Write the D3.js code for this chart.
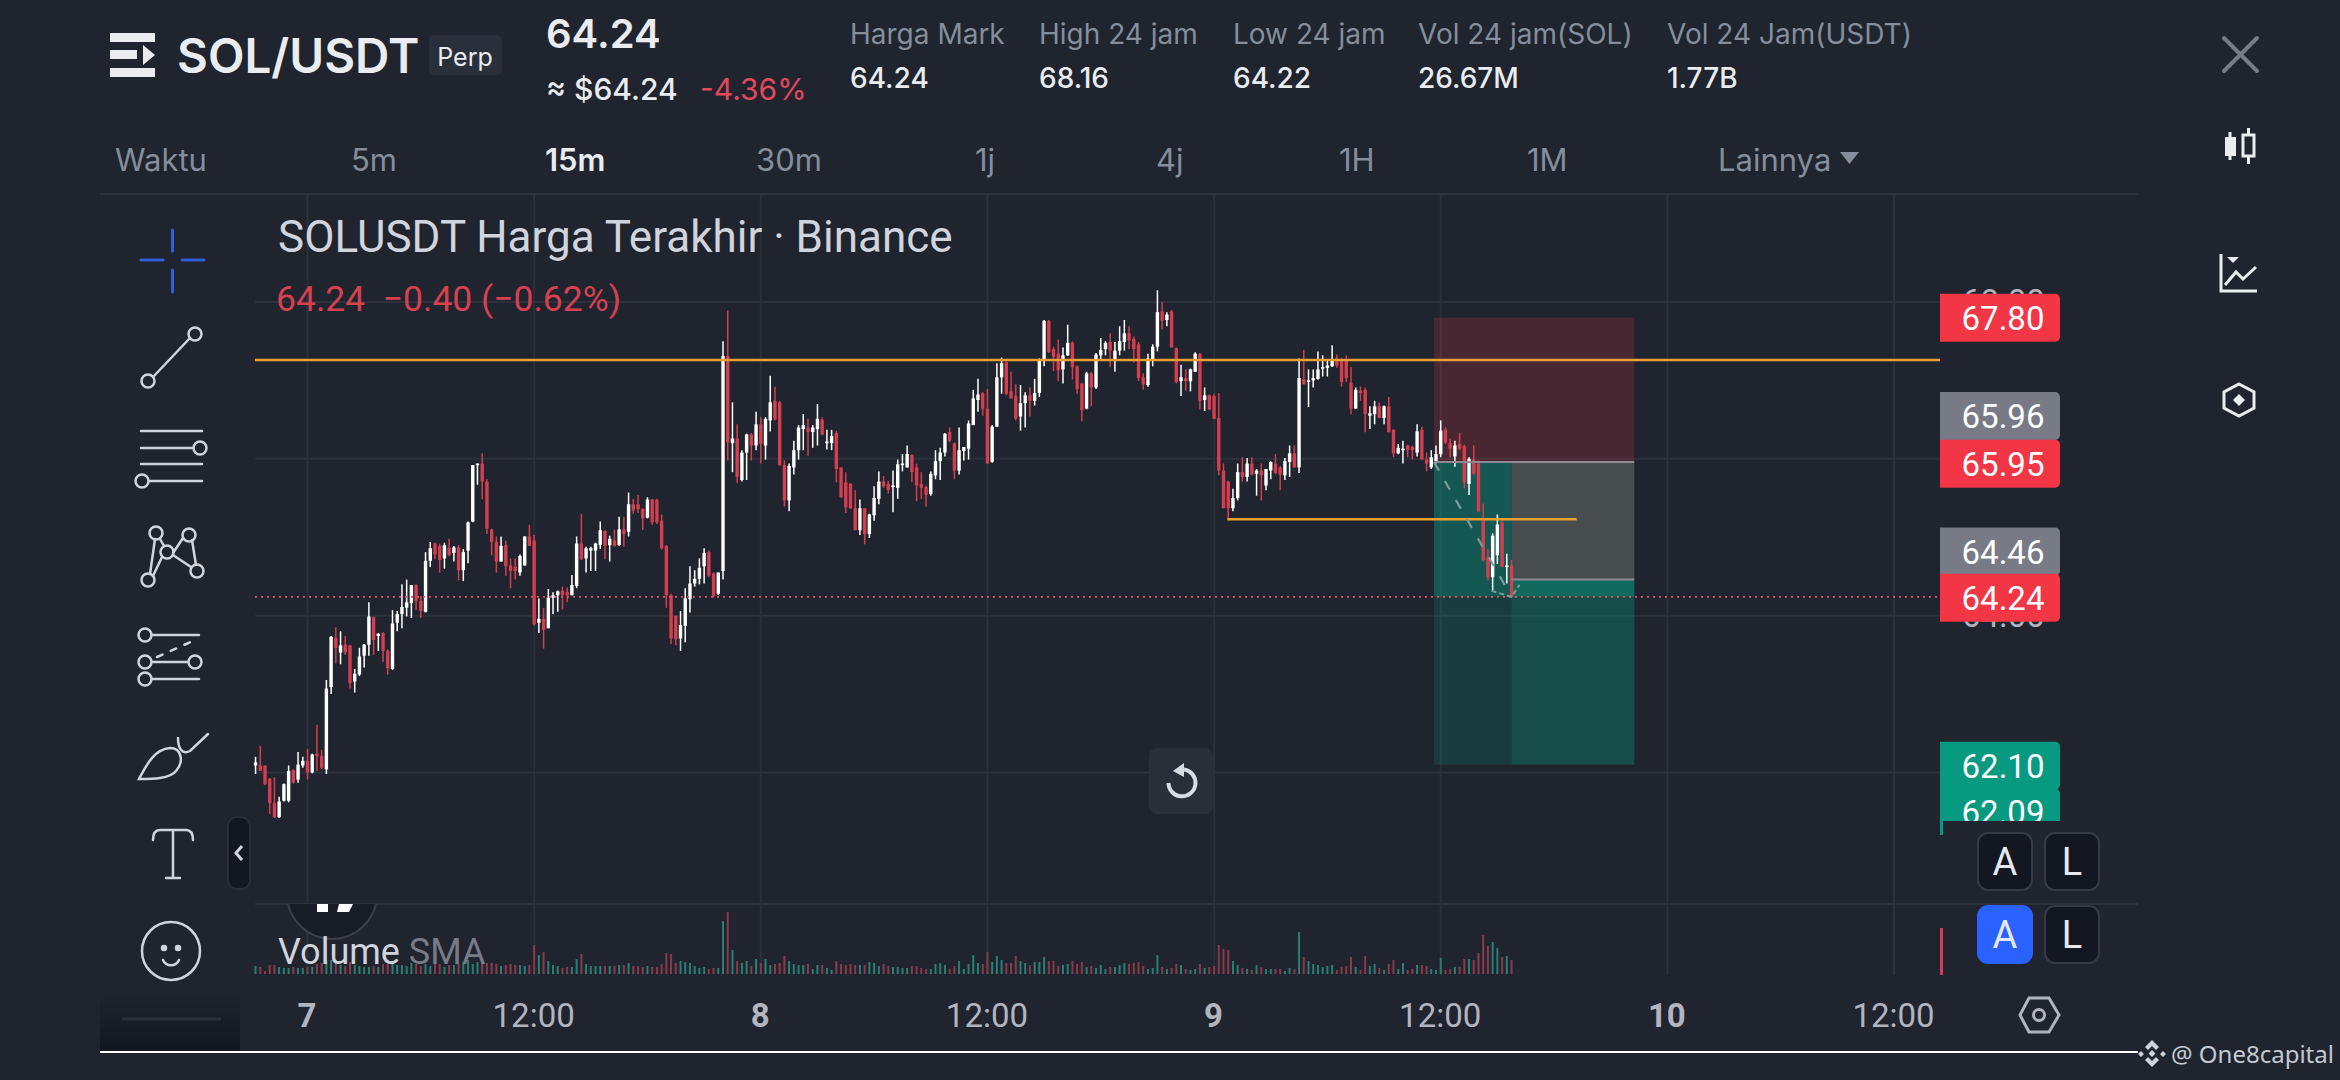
<!DOCTYPE html>
<html>
<head>
<meta charset="utf-8">
<script src="https://cdnjs.cloudflare.com/ajax/libs/d3/7.8.5/d3.min.js"></script>
<style>
  html, body { margin: 0; padding: 0; background: #1f242f; overflow: hidden; }
  svg { display: block; }
  text { font-family: Roboto, sans-serif; }
  .head { font-family: Inter, Roboto, sans-serif; }
</style>
</head>
<body>
<svg id="chart" width="2340" height="1080"></svg>
<script>
// candles, one every 15 minutes, oldest first
const opens = [
62.09,62.09,62.09,61.92,61.61,61.43,61.64,61.64,62.03,61.91,62.09,62.15,62.00,62.24,62.21,62.04,63.09,63.72,63.53,63.63,
63.62,63.16,63.25,63.49,63.63,63.98,63.74,63.78,63.55,63.32,63.91,64.02,64.10,64.16,64.39,64.19,64.05,64.70,64.92,64.89,
64.73,64.87,64.80,64.87,64.58,64.83,65.20,65.92,65.94,65.71,65.10,64.94,64.69,64.90,64.64,64.62,64.55,64.64,65.01,64.96,
63.91,63.96,63.84,64.23,64.26,64.32,64.30,64.26,64.38,64.92,64.73,64.83,64.83,64.90,65.08,64.90,64.96,64.90,65.10,65.07,
65.42,65.42,65.36,65.25,65.48,65.48,65.21,64.89,64.26,64.00,63.71,63.87,64.21,64.41,64.47,64.63,64.81,64.54,64.28,64.57,
67.31,66.20,66.26,65.73,66.08,66.31,66.17,66.44,66.17,66.49,66.74,66.72,65.92,65.47,65.89,66.11,66.38,66.40,66.34,66.38,
66.50,66.20,66.20,66.33,65.89,65.70,65.68,65.37,65.09,65.37,65.04,65.28,65.49,65.71,65.68,65.64,65.63,65.92,65.89,66.05,
65.89,65.68,65.64,65.55,65.79,65.97,66.08,66.34,66.20,65.85,66.10,66.13,66.43,66.75,66.84,66.64,65.96,66.41,67.04,67.23,
66.86,66.80,66.54,66.71,66.81,66.74,66.84,67.26,67.76,67.40,67.34,67.14,67.32,67.48,67.18,66.96,66.64,67.09,66.91,67.32,
67.40,67.49,67.26,67.38,67.49,67.60,67.53,67.46,67.04,66.94,67.26,67.43,67.88,67.77,67.88,67.41,66.99,67.03,66.99,67.11,
67.34,66.75,66.81,66.80,66.52,65.85,65.71,65.37,65.50,65.83,65.77,65.94,65.81,65.85,65.66,65.85,65.94,65.89,65.79,65.96,
66.07,65.89,67.02,66.98,67.00,67.02,67.15,67.16,67.18,67.28,67.25,67.25,66.97,66.64,66.87,66.88,66.55,66.57,66.67,66.52,
66.67,66.37,66.07,66.11,66.17,66.15,66.08,66.37,65.99,65.89,65.96,66.06,66.37,66.20,66.03,66.19,66.16,65.68,65.99,65.94,
65.23,64.74,64.49,64.77,65.19,64.62,64.64];
const highs = [
62.20,62.34,62.09,61.93,61.94,61.69,61.86,62.09,62.04,62.26,62.20,62.30,62.24,62.61,62.29,63.18,63.74,63.85,63.80,63.74,
63.63,63.32,63.59,63.64,64.17,63.99,63.78,63.79,63.57,64.07,64.06,64.40,64.46,64.39,64.40,64.25,64.81,64.94,64.93,64.92,
64.93,64.98,64.89,64.90,64.85,65.20,65.92,65.94,66.07,65.74,65.11,65.01,65.01,64.96,64.73,64.73,64.78,65.01,65.16,65.03,
64.22,64.10,64.34,64.30,64.32,64.37,64.36,64.52,65.01,65.30,64.88,64.88,64.93,65.20,65.09,65.02,65.10,65.26,65.26,65.57,
65.49,65.54,65.37,65.51,65.49,65.49,65.29,64.90,64.28,64.00,64.06,64.35,64.63,64.58,64.73,64.86,64.83,64.55,64.55,67.50,
67.89,66.72,66.44,66.11,66.32,66.33,66.60,66.53,66.53,67.06,66.92,66.74,65.98,65.94,66.23,66.43,66.57,66.51,66.43,66.70,
66.53,66.37,66.37,66.36,65.89,65.83,65.69,65.60,65.48,65.37,65.30,65.65,65.84,65.78,65.72,65.85,65.99,66.06,66.17,66.06,
65.94,65.83,65.66,65.84,66.11,66.14,66.33,66.40,66.21,66.40,66.15,66.49,66.88,67.02,66.85,66.89,66.43,67.22,67.29,67.25,
67.11,66.95,66.94,66.85,66.91,67.02,67.28,67.77,67.77,67.43,67.52,67.42,67.71,67.50,67.19,66.97,67.11,67.11,67.35,67.54,
67.50,67.60,67.49,67.69,67.77,67.69,67.56,67.49,67.09,67.34,67.46,68.15,68.00,67.87,67.90,67.42,67.20,67.14,67.15,67.36,
67.35,66.91,66.82,66.83,66.84,65.94,65.72,65.62,65.94,66.02,66.01,66.02,65.87,65.94,65.87,65.97,66.06,65.91,66.01,66.17,
66.17,67.28,67.39,67.14,67.14,67.37,67.32,67.25,67.45,67.33,67.29,67.32,67.17,66.91,66.92,66.91,66.67,66.74,66.72,66.68,
66.79,66.38,66.19,66.23,66.18,66.17,66.44,66.41,66.08,66.11,66.17,66.49,66.40,66.26,66.23,66.33,66.18,66.02,66.17,65.98,
65.43,64.85,65.05,65.29,65.23,64.79,64.71];
const lows = [
61.98,62.02,61.84,61.47,61.42,61.42,61.63,61.62,61.86,61.87,62.06,61.91,61.99,62.02,62.04,61.98,63.00,63.39,63.38,63.50,
63.07,63.02,63.23,63.34,63.49,63.50,63.55,63.41,63.25,63.31,63.80,63.84,63.99,63.97,64.07,63.97,64.04,64.62,64.72,64.55,
64.60,64.76,64.69,64.45,64.44,64.67,65.19,65.67,65.48,65.04,64.77,64.55,64.69,64.51,64.35,64.46,64.51,64.64,64.89,63.87,
63.78,63.58,63.84,64.02,64.05,64.08,64.17,64.26,64.35,64.71,64.55,64.57,64.57,64.85,64.72,64.69,64.88,64.89,64.88,65.01,
65.30,65.31,65.09,65.24,65.16,65.17,64.84,64.10,63.64,63.62,63.55,63.66,64.04,64.37,64.40,64.41,64.49,64.23,64.26,64.46,
65.98,65.83,65.69,65.71,65.73,65.98,66.11,65.94,65.99,66.35,66.49,65.91,65.39,65.33,65.80,65.99,66.11,66.04,66.14,66.17,
66.30,66.12,66.11,65.70,65.50,65.31,65.36,65.09,65.03,64.91,64.99,65.21,65.42,65.63,65.56,65.32,65.49,65.84,65.89,65.70,
65.46,65.49,65.39,65.53,65.74,65.73,66.03,66.21,65.74,65.80,65.98,65.99,66.43,66.60,66.55,65.94,65.95,66.41,66.83,66.81,
66.77,66.49,66.36,66.40,66.54,66.68,66.79,67.18,67.35,67.12,66.99,66.96,67.31,67.01,66.83,66.48,66.63,66.67,66.89,67.26,
67.32,67.17,67.11,67.32,67.38,67.40,67.23,66.99,66.88,66.92,67.18,67.37,67.65,67.69,67.42,66.96,66.80,66.87,66.86,67.11,
66.63,66.61,66.62,66.51,65.79,65.37,65.23,65.33,65.47,65.71,65.71,65.79,65.53,65.47,65.60,65.74,65.80,65.60,65.73,65.77,
65.89,65.82,66.95,66.66,66.91,67.01,67.05,67.05,67.17,67.16,66.92,66.98,66.57,66.64,66.74,66.34,66.38,66.44,66.52,66.44,
66.34,66.02,66.06,65.94,66.02,65.99,66.03,65.99,65.84,65.87,65.94,66.02,66.19,66.02,65.90,66.11,65.62,65.54,65.79,65.32,
64.69,64.45,64.32,64.66,64.62,64.41,64.24];
const closes = [
62.13,62.02,61.85,61.61,61.43,61.63,61.85,62.02,61.87,62.10,62.15,62.00,62.23,62.21,62.06,63.07,63.73,63.59,63.62,63.53,
63.14,63.26,63.48,63.63,63.99,63.69,63.77,63.55,63.33,63.90,64.02,64.11,64.17,64.39,64.19,64.06,64.70,64.86,64.78,64.71,
64.90,64.77,64.87,64.58,64.81,65.19,65.92,65.94,65.71,65.11,64.94,64.69,64.89,64.63,64.57,64.57,64.76,65.01,64.89,63.89,
63.96,63.82,64.23,64.26,64.31,64.26,64.26,64.39,64.92,64.72,64.86,64.86,64.92,65.09,64.89,64.98,64.89,65.10,65.04,65.42,
65.34,65.36,65.24,65.48,65.19,65.19,64.86,64.26,63.71,63.70,63.88,64.22,64.41,64.47,64.61,64.80,64.51,64.25,64.55,67.31,
66.21,66.26,65.77,66.08,66.31,66.17,66.44,66.19,66.51,66.72,66.50,65.92,65.47,65.91,66.11,66.40,66.43,66.34,66.40,66.51,
66.31,66.22,66.29,65.87,65.51,65.38,65.37,65.09,65.37,65.04,65.29,65.50,65.71,65.65,65.60,65.66,65.93,65.94,66.06,65.83,
65.66,65.63,65.54,65.81,65.97,66.08,66.32,66.23,65.85,66.11,66.15,66.45,66.77,66.82,66.64,65.94,66.41,67.04,67.22,66.83,
66.77,66.51,66.71,66.81,66.74,66.84,67.26,67.76,67.36,67.30,67.13,67.32,67.48,67.17,66.89,66.62,67.09,66.91,67.33,67.39,
67.48,67.38,67.38,67.50,67.60,67.51,67.40,67.03,66.95,67.28,67.43,67.87,67.76,67.84,67.42,66.98,67.04,66.99,67.14,67.34,
66.74,66.81,66.63,66.51,65.85,65.37,65.37,65.50,65.83,65.77,65.94,65.80,65.85,65.79,65.87,65.96,65.82,65.80,65.97,66.07,
65.89,67.03,66.95,67.00,67.03,67.14,67.17,67.19,67.25,67.19,66.98,67.03,66.64,66.88,66.84,66.57,66.58,66.67,66.52,66.67,
66.34,66.07,66.14,66.13,66.11,66.11,66.35,65.99,65.94,66.02,66.06,66.36,66.21,66.13,66.17,66.13,65.70,66.00,65.81,65.33,
64.71,64.49,65.02,65.16,64.62,64.64,64.24];
const volumes = [
80,70,30,90,90,70,60,60,70,60,60,70,70,100,110,130,140,110,90,80,
120,90,80,70,70,80,70,100,110,130,90,90,80,110,100,80,100,80,120,100,
70,90,90,100,120,140,100,120,120,110,110,100,80,90,100,90,90,80,90,290,
190,220,130,90,80,60,70,70,150,200,100,80,80,80,80,80,80,90,90,110,
80,80,70,80,70,70,100,210,200,110,130,120,110,80,60,70,50,60,60,530,
620,240,130,110,130,80,150,110,150,90,100,110,180,130,100,90,90,100,50,90,
90,60,40,130,100,90,100,90,90,90,120,110,80,100,80,70,70,60,60,80,
80,60,50,50,100,110,90,50,80,130,50,100,190,110,100,220,120,180,140,110,
110,180,130,110,90,120,120,170,130,130,80,90,100,130,100,120,70,80,60,90,
50,70,70,90,110,100,110,120,80,50,60,190,70,50,60,100,90,50,40,50,
100,60,70,80,290,250,240,130,90,60,50,40,90,70,50,50,50,50,30,60,
50,420,170,130,100,90,70,80,90,40,70,80,170,70,40,180,80,100,60,40,
100,140,50,110,40,50,90,90,80,50,40,160,40,50,70,70,150,150,140,210,
390,280,320,260,170,180,140];

// time axis, hours since the start of day 7
const firstCandleHour = -2.75;
const candleStepHours = 0.25;
const timeTicks = [0, 12, 24, 36, 48, 60, 72, 84];
const timeTickLabels = ["7", "12:00", "8", "12:00", "9", "12:00", "10", "12:00"];

// price grid, the axis labels that still show, and the price tags stacked on top
const priceGrid = [62, 64, 66, 68];
const priceLabels = [64, 68];
const tagPrices = [67.80, 65.96, 65.95, 64.46, 64.24, 62.10, 62.09];
const tagShifts = [0, -46, 1, -28, 1, 1, 47];
const tagFills = ["#f23645", "#787b86", "#f23645", "#787b86", "#f23645", "#089981", "#089981"];

// drawings on the chart
const upperLevel = 67.26;
const lowerLevel = 65.23;
const lowerLevelHours = [48.7, 67.2];
const lastPrice = 64.24;
const positionHours = [59.64, 63.75, 70.25];
const stopPrice = 67.80;
const entryPrice = 65.96;
const exitPrice = 64.46;
const targetPrice = 62.10;

// header texts
const statLabels = ["Harga Mark", "High 24 jam", "Low 24 jam", "Vol 24 jam(SOL)", "Vol 24 Jam(USDT)"];
const statValues = ["64.24", "68.16", "64.22", "26.67M", "1.77B"];
const statX = [850, 1039, 1233, 1418, 1667];
const intervals = ["Waktu", "5m", "15m", "30m", "1j", "4j", "1H", "1M", "Lainnya"];
const intervalX = [115, 351, 545, 756, 975, 1156, 1339, 1527, 1718];

const bg = "#1f242f";
const gridColor = "#2b303b";
const iconColor = "#d1d4dc";
const plotLeft = 255, plotRight = 1940;

const svg = d3.select("#chart");
svg.append("rect").attr("width", 2340).attr("height", 1080).attr("fill", bg);

const x = d3.scaleLinear().domain([0, 84]).range([307.5, 1894]);
const y = d3.scaleLinear().domain([62, 68]).range([772.5, 302]);
const yVolume = d3.scaleLinear().domain([0, 620]).range([974, 912]);
const candleHour = i => firstCandleHour + i * candleStepHours;

const defs = svg.append("defs");
const fade = defs.append("linearGradient").attr("id", "cornerFade").attr("x1", 0).attr("x2", 0).attr("y1", 0).attr("y2", 1);
fade.append("stop").attr("offset", "0%").attr("stop-color", bg);
fade.append("stop").attr("offset", "100%").attr("stop-color", "#12151d");
defs.append("clipPath").attr("id", "tagClip").append("rect")
  .attr("x", 1930).attr("y", 200).attr("width", 140).attr("height", 621);
defs.append("clipPath").attr("id", "logoClip").append("rect")
  .attr("x", 255).attr("y", 904).attr("width", 200).attr("height", 60);

// Header
const header = svg.append("g").attr("class", "header");
header.append("path").attr("fill", "#eaecef")
  .attr("d", "M110 33H155V42H110ZM110 50H137V59H110ZM143 45L155 55L143 65ZM110 68H155V77H110Z");
header.append("text").attr("class", "head").attr("x", 177).attr("y", 73)
  .attr("font-size", 47.5).attr("font-weight", 600).attr("fill", "#eaecef").text("SOL/USDT");
header.append("rect").attr("x", 429).attr("y", 35).attr("width", 73).attr("height", 40).attr("rx", 5).attr("fill", "#2a303b");
header.append("text").attr("class", "head").attr("x", 465).attr("y", 66).attr("text-anchor", "middle")
  .attr("font-size", 25).attr("fill", "#eaecef").text("Perp");
header.append("text").attr("class", "head").attr("x", 546).attr("y", 48)
  .attr("font-size", 40).attr("font-weight", 600).attr("fill", "#eaecef").text("64.24");
header.append("text").attr("class", "head").attr("x", 546).attr("y", 100)
  .attr("font-size", 30).attr("font-weight", 500).attr("fill", "#eaecef").text("≈ $64.24");
header.append("text").attr("class", "head").attr("x", 700).attr("y", 100)
  .attr("font-size", 30).attr("fill", "#e0485c").text("-4.36%");

statLabels.forEach((label, i) => {
  header.append("text").attr("class", "head").attr("x", statX[i]).attr("y", 44)
    .attr("font-size", 28).attr("fill", "#848e9c").text(label);
  header.append("text").attr("class", "head").attr("x", statX[i]).attr("y", 88)
    .attr("font-size", 28).attr("font-weight", 500).attr("fill", "#eaecef").text(statValues[i]);
});

intervals.forEach((label, i) => {
  header.append("text").attr("class", "head").attr("x", intervalX[i]).attr("y", 171)
    .attr("font-size", 31).attr("font-weight", label === "15m" ? 600 : 400)
    .attr("fill", label === "15m" ? "#eaecef" : "#848e9c").text(label);
});
header.append("path").attr("fill", "#848e9c").attr("d", "M1840 152H1859L1849.5 164Z");

// Pane separators
svg.append("line").attr("x1", 100).attr("x2", 2138).attr("y1", 194).attr("y2", 194).attr("stroke", gridColor).attr("stroke-width", 2);
svg.append("line").attr("x1", 255).attr("x2", 2138).attr("y1", 904).attr("y2", 904).attr("stroke", gridColor).attr("stroke-width", 2);

// Grid and axes
const xAxis = svg.append("g").attr("transform", "translate(-1,975)")
  .call(d3.axisBottom(x).tickValues(timeTicks).tickSize(0).tickPadding(29)
    .tickFormat((d, i) => timeTickLabels[i]));
xAxis.select(".domain").remove();
xAxis.selectAll("text").attr("font-family", "Roboto, sans-serif").attr("font-size", 33).attr("fill", "#b2b5be")
  .attr("font-weight", (d, i) => i % 2 === 0 ? 700 : 400);

svg.append("g").selectAll("line").data(timeTicks).join("line")
  .attr("x1", d => x(d)).attr("x2", d => x(d)).attr("y1", 194).attr("y2", 975)
  .attr("stroke", gridColor).attr("stroke-width", 2);

const yAxis = svg.append("g").attr("transform", `translate(${plotRight},0)`)
  .call(d3.axisRight(y).tickValues(priceLabels).tickSize(0).tickPadding(22).tickFormat(d3.format(".2f")));
yAxis.select(".domain").remove();
yAxis.selectAll("text").attr("font-family", "Roboto, sans-serif").attr("font-size", 33).attr("fill", "#b2b5be");

svg.append("g").selectAll("line").data(priceGrid).join("line")
  .attr("x1", plotLeft).attr("x2", plotRight).attr("y1", d => y(d)).attr("y2", d => y(d))
  .attr("stroke", gridColor).attr("stroke-width", 2);

// Short position drawing
const position = svg.append("g");
const zone = (h0, h1, p0, p1, fill, opacity) => position.append("rect")
  .attr("x", x(h0)).attr("width", x(h1) - x(h0))
  .attr("y", y(p0)).attr("height", y(p1) - y(p0))
  .attr("fill", fill).attr("opacity", opacity);
const [posStart, posNow, posEnd] = positionHours;
zone(posStart, posEnd, stopPrice, entryPrice, "#f23645", 0.2);
zone(posStart, posEnd, entryPrice, targetPrice, "#089981", 0.2);
zone(posStart, posNow, entryPrice, lastPrice, "#089981", 0.3);
zone(posNow, posEnd, lastPrice, targetPrice, "#089981", 0.18);
zone(posNow, posEnd, entryPrice, exitPrice, "#484d4f", 1);
zone(posNow, posEnd, exitPrice, lastPrice, "#126a5f", 1);

// Volume
const volumePane = svg.append("g");
volumePane.selectAll("rect").data(volumes).join("rect")
  .attr("x", (d, i) => x(candleHour(i)) - 1)
  .attr("width", 2)
  .attr("y", d => yVolume(d))
  .attr("height", d => yVolume(0) - yVolume(d))
  .attr("fill", (d, i) => closes[i] >= opens[i] ? "#2a7f71" : "#8a3a4c");

// Candles
const candles = svg.append("g");
const candleColor = i => closes[i] >= opens[i] ? "#ffffff" : "#d33f4f";
candles.selectAll(".wick").data(opens).join("line").attr("class", "wick")
  .attr("x1", (d, i) => x(candleHour(i))).attr("x2", (d, i) => x(candleHour(i)))
  .attr("y1", (d, i) => y(highs[i])).attr("y2", (d, i) => y(lows[i]))
  .attr("stroke", (d, i) => candleColor(i)).attr("stroke-width", 1.5);
candles.selectAll(".body").data(opens).join("rect").attr("class", "body")
  .attr("x", (d, i) => x(candleHour(i)) - 1.7)
  .attr("width", 3.4)
  .attr("y", (d, i) => y(Math.max(opens[i], closes[i])))
  .attr("height", (d, i) => Math.max(1.5, Math.abs(y(opens[i]) - y(closes[i]))))
  .attr("fill", (d, i) => candleColor(i));

// Levels and position lines
const levels = svg.append("g");
levels.append("line").attr("x1", plotLeft).attr("x2", plotRight).attr("y1", y(upperLevel)).attr("y2", y(upperLevel))
  .attr("stroke", "#e8a02f").attr("stroke-width", 2.6);
levels.append("line").attr("x1", x(lowerLevelHours[0])).attr("x2", x(lowerLevelHours[1])).attr("y1", y(lowerLevel)).attr("y2", y(lowerLevel))
  .attr("stroke", "#e8a02f").attr("stroke-width", 2.6);
levels.append("line").attr("x1", plotLeft).attr("x2", plotRight).attr("y1", y(lastPrice)).attr("y2", y(lastPrice))
  .attr("stroke", "#e0506a").attr("stroke-width", 1.6).attr("stroke-dasharray", "2 4");
levels.append("line").attr("x1", x(posStart)).attr("x2", x(posEnd)).attr("y1", y(entryPrice)).attr("y2", y(entryPrice))
  .attr("stroke", "#8f8a94").attr("stroke-width", 2);
levels.append("line").attr("x1", x(posNow)).attr("x2", x(posEnd)).attr("y1", y(exitPrice)).attr("y2", y(exitPrice))
  .attr("stroke", "#8f8a94").attr("stroke-width", 2);
levels.append("line").attr("x1", x(posStart)).attr("x2", x(posNow)).attr("y1", y(entryPrice)).attr("y2", y(lastPrice))
  .attr("stroke", "#7f9a97").attr("stroke-width", 2.2).attr("stroke-dasharray", "10 12");
levels.append("path").attr("fill", "none").attr("stroke", "#7f9a97").attr("stroke-width", 2).attr("stroke-dasharray", "5 3")
  .attr("d", `M${x(posNow) - 20} ${y(lastPrice) - 6}L${x(posNow)} ${y(lastPrice)}L${x(posNow) + 8} ${y(lastPrice) - 12}`);

// Price tags, they cover the axis labels underneath
const tags = svg.append("g").attr("clip-path", "url(#tagClip)");
tagPrices.forEach((price, i) => {
  const cy = y(price) + tagShifts[i];
  tags.append("path").attr("fill", tagFills[i])
    .attr("d", `M1940 ${cy - 24}H2055a5 5 0 0 1 5 5V${cy + 19}a5 5 0 0 1 -5 5H1940Z`);
  tags.append("text").attr("x", 2003).attr("y", cy + 12).attr("text-anchor", "middle")
    .attr("font-size", 33).attr("fill", "#ffffff").text(d3.format(".2f")(price));
});
svg.append("rect").attr("x", 1940).attr("y", 821).attr("width", 3).attr("height", 14).attr("fill", "#089981");
svg.append("rect").attr("x", 1940).attr("y", 928).attr("width", 3).attr("height", 47).attr("fill", "#d33f4f");

// Chart titles
svg.append("text").attr("x", 278).attr("y", 252).attr("font-size", 44).attr("fill", "#d1d4dc")
  .text("SOLUSDT Harga Terakhir · Binance");
svg.append("text").attr("x", 276).attr("y", 311).attr("font-size", 35.5).attr("fill", "#d6404f")
  .attr("xml:space", "preserve").text("64.24  −0.40 (−0.62%)");

// Logo button cut by the pane line, then the volume legend
const logo = svg.append("g").attr("clip-path", "url(#logoClip)");
logo.append("circle").attr("cx", 332).attr("cy", 894).attr("r", 45).attr("fill", "#191d27").attr("stroke", "#3a3f4a").attr("stroke-width", 2);
logo.append("path").attr("fill", "#ffffff").attr("d", "M317 904H328V912H317ZM339 904H353L349 912H337Z");
const volumeLegend = svg.append("text").attr("x", 278).attr("y", 964).attr("font-size", 36);
volumeLegend.append("tspan").attr("fill", "#d1d4dc").text("Volume ");
volumeLegend.append("tspan").attr("fill", "#787b86").text("SMA");

// Left toolbar
const tools = svg.append("g").attr("fill", "none").attr("stroke", iconColor).attr("stroke-width", 2.5).attr("stroke-linecap", "round");
const dot = (cx, cy, r = 6.5) => tools.append("circle").attr("cx", cx).attr("cy", cy).attr("r", r);
const seg = (d) => tools.append("path").attr("d", d);
tools.append("path").attr("stroke", "#2f5fd8").attr("stroke-width", 3).attr("d", "M141 260H163M182 260H204M172.5 230V251M172.5 270V292");
seg("M153 377L190 338"); dot(148, 381); dot(195, 334);
seg("M141 431H202M141 448H192M141 464H202M149 481H202"); dot(200, 448); dot(142, 481);
seg("M150 574L155 539M153 576L162 557M160 539L164 546M173 553L183 538M192 540L196 565M173 555L191 567");
dot(148, 580); dot(156, 533); dot(167, 552); dot(189, 535); dot(197, 571);
seg("M152 635H199M152 662H188M152 679H199"); dot(145, 635); dot(145, 662); dot(195, 662); dot(145, 679);
tools.append("path").attr("stroke-dasharray", "6 9").attr("d", "M157 657L195 640");
seg("M139 779C146 766 154 749 170 748C182 748 184 762 176 771C170 779 152 779 139 779Z");
seg("M178 738C178 748 182 755 190 751L208 734");
seg("M153 840C153 833 155 830 160 830H186C191 830 193 833 193 840M173 830V878M166 878H180");
dot(171, 951, 29);
tools.append("circle").attr("cx", 164).attr("cy", 948).attr("r", 2).attr("fill", iconColor);
tools.append("circle").attr("cx", 178).attr("cy", 948).attr("r", 2).attr("fill", iconColor);
seg("M163 960C166 967 176 967 179 960");

// Toolbar collapse handle
svg.append("rect").attr("x", 228).attr("y", 817).attr("width", 22).attr("height", 72).attr("rx", 9)
  .attr("fill", "#131722").attr("stroke", "#2a2e39").attr("stroke-width", 2);
svg.append("path").attr("d", "M242 846L236 853L242 860").attr("fill", "none").attr("stroke", iconColor).attr("stroke-width", 3);

// Reset button
svg.append("rect").attr("x", 1149).attr("y", 748).attr("width", 64).attr("height", 66).attr("rx", 8).attr("fill", "#2a2e39");
svg.append("path").attr("fill", "none").attr("stroke", "#d9dce3").attr("stroke-width", 4)
  .attr("d", "M1184 769.500A13.500 13.500 0 1 1 1168.500 783");
svg.append("path").attr("fill", "#d9dce3").attr("d", "M1184 763V777L1173 771Z");

// Scale buttons
const scaleButtons = [
  { x: 1978, y: 833, t: "A", on: false }, { x: 2045, y: 833, t: "L", on: false },
  { x: 1978, y: 906, t: "A", on: true }, { x: 2045, y: 906, t: "L", on: false }
];
scaleButtons.forEach(b => {
  svg.append("rect").attr("x", b.x).attr("y", b.y).attr("width", 54).attr("height", 57).attr("rx", 10)
    .attr("fill", b.on ? "#2962ff" : "#131722").attr("stroke", b.on ? "#2962ff" : "#363a45").attr("stroke-width", 2);
  svg.append("text").attr("x", b.x + 27).attr("y", b.y + 42).attr("text-anchor", "middle")
    .attr("font-size", 38).attr("fill", "#e6e8ee").text(b.t);
});

// Settings hexagon on the corner
svg.append("path").attr("fill", "none").attr("stroke", "#b2b5be").attr("stroke-width", 3)
  .attr("d", "M2029 998H2049L2059 1015L2049 1032H2029L2020 1015Z");
svg.append("circle").attr("cx", 2039).attr("cy", 1015).attr("r", 5.5).attr("fill", "none").attr("stroke", "#b2b5be").attr("stroke-width", 3);

// Right side icons
const side = svg.append("g");
side.append("path").attr("stroke", "#787b86").attr("stroke-width", 4).attr("stroke-linecap", "round").attr("d", "M2224 38L2257 71M2257 38L2224 71");
side.append("path").attr("fill", "#eaecef").attr("d", "M2225 137H2228.5V132H2231.5V137H2236V156H2231.5V160H2228.5V156H2225Z");
side.append("path").attr("fill", "none").attr("stroke", "#eaecef").attr("stroke-width", 3)
  .attr("d", "M2243 135H2254V156H2243ZM2248.5 128V135M2248.5 156V164");
side.append("path").attr("fill", "none").attr("stroke", "#eaecef").attr("stroke-width", 3)
  .attr("d", "M2221 254V291H2257M2225 285L2236 272L2243 279L2256 267");
side.append("path").attr("fill", "#eaecef").attr("d", "M2227 257H2239L2233 263Z");
side.append("path").attr("fill", "none").attr("stroke", "#eaecef").attr("stroke-width", 3)
  .attr("d", "M2239 384L2254 392V408L2239 416L2224 408V392Z");
side.append("path").attr("fill", "#eaecef").attr("d", "M2239 394L2245 400L2239 406L2233 400Z");

// Bottom corner, rule and watermark
svg.append("rect").attr("x", 100).attr("y", 995).attr("width", 140).attr("height", 57).attr("fill", "url(#cornerFade)");
svg.append("line").attr("x1", 122).attr("x2", 221).attr("y1", 1019).attr("y2", 1019).attr("stroke", "#2b303b").attr("stroke-width", 3);
svg.append("line").attr("x1", 100).attr("x2", 2138).attr("y1", 1052).attr("y2", 1052).attr("stroke", "#ffffff").attr("stroke-width", 2);
svg.append("path").attr("fill", "#cfd2d8")
  .attr("d", "M2152 1040L2159 1047L2156 1050L2152 1046L2148 1050L2145 1047ZM2152 1050L2155.5 1053.5L2152 1057L2148.5 1053.5ZM2141 1051L2144 1054L2141 1057L2138 1054ZM2163 1051L2166 1054L2163 1057L2160 1054ZM2145 1060L2148 1057L2152 1061L2156 1057L2159 1060L2152 1067Z");
svg.append("text").attr("x", 2171).attr("y", 1063).style("font-family", "'Noto Sans', sans-serif")
  .attr("font-size", 24).attr("fill", "#c5c9d0").text("@ One8capital");
</script>
</body>
</html>
